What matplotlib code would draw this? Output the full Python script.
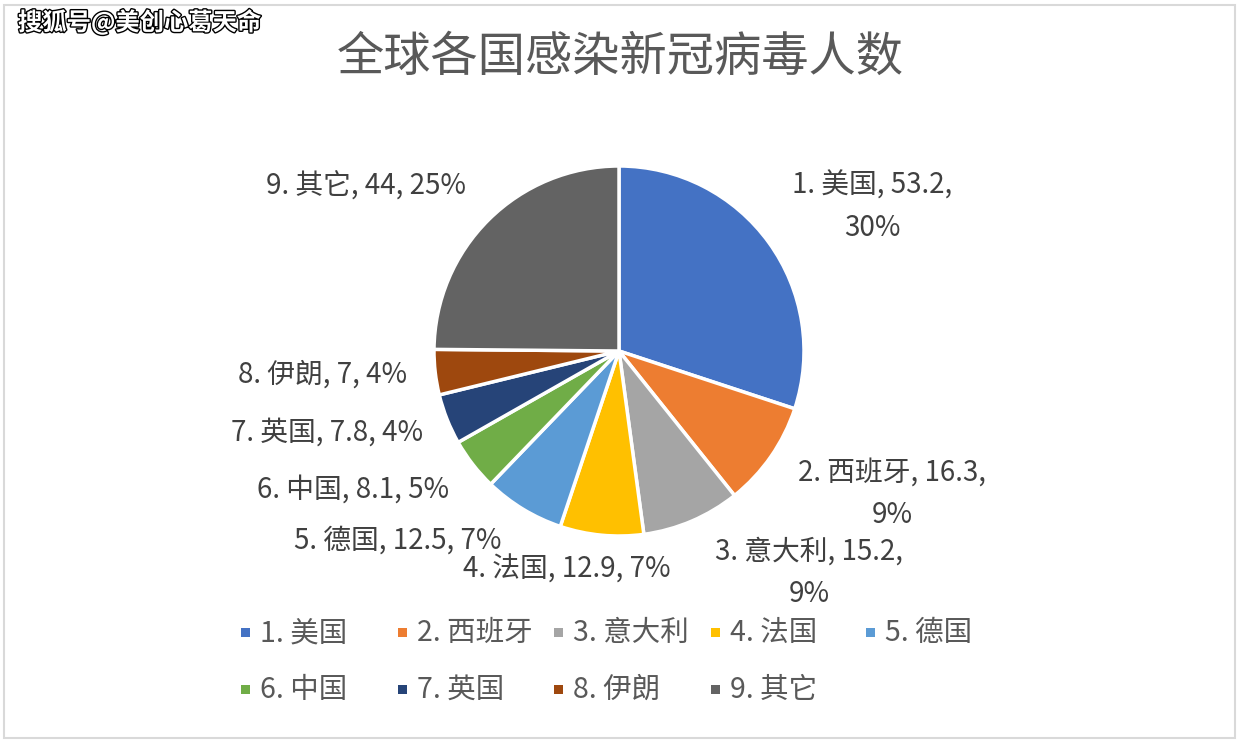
import matplotlib.pyplot as plt
import matplotlib.patheffects as pe
from matplotlib.patches import Rectangle

plt.rcParams["font.family"] = ["Noto Sans CJK SC", "DejaVu Sans"]

countries = ["1. 美国", "2. 西班牙", "3. 意大利", "4. 法国", "5. 德国",
             "6. 中国", "7. 英国", "8. 伊朗", "9. 其它"]
cases = [53.2, 16.3, 15.2, 12.9, 12.5, 8.1, 7.8, 7, 44]
colors = ["#4472C4", "#ED7D31", "#A5A5A5", "#FFC000", "#5B9BD5",
          "#70AD47", "#264478", "#9E480E", "#636363"]

# label layout (data coords of the pie axes) and line breaks, Excel style
label_pos = [(1.368, 0.778), (1.476, -0.773), (1.027, -1.20), (-0.281, -1.184),
             (-1.195, -1.027), (-1.438, -0.751), (-1.578, -0.443),
             (-1.60, -0.130), (-1.368, 0.886)]
wrap = [True, True, True, False, False, False, False, False, False]

W, H = 1240, 742
fig = plt.figure(figsize=(W / 100, H / 100), dpi=100)

cx, cy, r = 619, 351, 185
ax = fig.add_axes([(cx - r) / W, (H - cy - r) / H, 2 * r / W, 2 * r / H])
ax.pie(
    cases,
    colors=colors,
    startangle=90,
    counterclock=False,
    radius=1,
    wedgeprops={"edgecolor": "white", "linewidth": 2.5},
)
ax.set_xlim(-1, 1)
ax.set_ylim(-1, 1)
ax.set_aspect("equal")
ax.axis("off")

total = sum(cases)
for name, val, pos, br in zip(countries, cases, label_pos, wrap):
    pct = round(val / total * 100)
    sep = ",\n" if br else ", "
    txt = f"{name}, {val:g}{sep}{pct}%"
    ax.text(pos[0], pos[1], txt, ha="center", va="center", fontsize=20,
            color="#404040", linespacing=1.55, clip_on=False)

fig.text(0.5, (H - 58) / H, "全球各国感染新冠病毒人数", ha="center", va="center",
         fontsize=34, color="#595959")

# legend laid out in equal columns like Excel
col_x = [245, 402, 558, 715, 870]
row_y = [633, 690]
for i, (name, c) in enumerate(zip(countries, colors)):
    x = col_x[i % 5]
    y = row_y[i // 5]
    fig.patches.append(Rectangle(((x - 4) / W, (H - y - 4) / H), 9 / W, 9 / H,
                                 transform=fig.transFigure, facecolor=c,
                                 edgecolor="none"))
    fig.text((x + 15) / W, (H - y) / H, name, ha="left", va="center",
             fontsize=20.5, color="#595959")

# watermark
fig.text(18 / W, (H - 22) / H, "搜狐号@美创心葛天命", ha="left", va="center",
         fontsize=17.5, fontweight="bold", color="white",
         path_effects=[pe.withStroke(linewidth=2, foreground="black")])

# chart border
fig.patches.append(Rectangle((4 / W, 4 / H), (W - 9) / W, (H - 9) / H,
                             transform=fig.transFigure, facecolor="none",
                             edgecolor="#D9D9D9", linewidth=1.5))

fig.savefig("out.png", dpi=100)
